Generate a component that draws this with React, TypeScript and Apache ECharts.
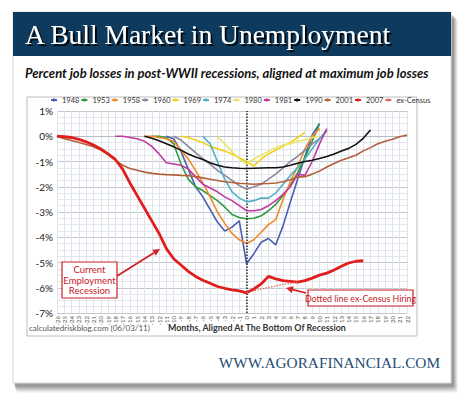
import React, { useEffect, useRef } from "react";
import * as echarts from "echarts";

const months = [-26, -25, -24, -23, -22, -21, -20, -19, -18, -17, -16, -15, -14, -13, -12, -11, -10, -9, -8, -7, -6, -5, -4, -3, -2, -1, 0, 1, 2, 3, 4, 5, 6, 7, 8, 9, 10, 11, 12, 13, 14, 15, 16, 17, 18, 19, 20, 21, 22];

const yMin = -7;
const yMax = 1;
const yStep = 1;

const start1948 = -11;
const v1948 = [0, -0.1, -0.6, -1.3, -2.0, -2.4, -2.9, -3.4, -3.75, -3.6, -3.35, -5.05, -4.65, -4.2, -4.05, -4.3, -3.55, -2.6, -1.7, -0.8, 0.05, 0.5];
const start1953 = -13;
const v1953 = [0, 0, -0.05, -0.3, -1.1, -1.7, -2.0, -2.15, -2.35, -2.55, -2.8, -3.1, -3.22, -3.27, -3.25, -3.15, -2.95, -2.7, -2.35, -1.95, -1.45, -0.85, -0.2, 0.5];
const start1958 = -14;
const v1958 = [0, 0, -0.05, -0.1, -0.2, -0.55, -0.9, -1.35, -1.85, -2.4, -3.0, -3.45, -3.85, -4.1, -4.25, -4.1, -3.8, -3.5, -3.3, -2.5, -1.8, -1.2, -0.5, 0.0, 0.3];
const start1960 = -10;
const v1960 = [0, -0.15, -0.4, -0.65, -0.9, -1.1, -1.35, -1.55, -1.75, -1.95, -2.1, -2.0, -1.9, -1.7, -1.5, -1.25, -1.0, -0.8, -0.55, -0.3, -0.1, 0.2];
const start1969 = -9;
const v1969 = [0, -0.05, -0.15, -0.25, -0.4, -0.5, -0.58, -0.7, -0.85, -1.0, -1.18, -0.9, -0.7, -0.55, -0.4, -0.25, -0.05, 0.15];
const start1974 = -6;
const v1974 = [0, -0.3, -1.0, -1.7, -2.2, -2.45, -2.6, -2.55, -2.45, -2.45, -2.25, -1.9, -1.55, -1.25, -0.9, -0.5, -0.1, 0.25];
const start1980 = -4;
const v1980 = [0, -0.3, -0.6, -0.9, -1.1, -0.9, -0.75, -0.6, -0.45, -0.35, -0.3, -0.2, -0.15, -0.05, 0.0];
const start1981 = -18;
const v1981 = [0, 0, -0.05, -0.1, -0.2, -0.4, -0.7, -1.05, -1.1, -1.15, -1.3, -1.6, -1.9, -2.05, -2.2, -2.4, -2.55, -2.75, -2.95, -2.95, -2.9, -2.75, -2.55, -2.3, -2.0, -1.5, -1.55, -1.0, -0.3, 0.3];
const start1990 = -14;
const v1990 = [0, -0.08, -0.18, -0.3, -0.42, -0.55, -0.7, -0.82, -0.92, -1.05, -1.15, -1.22, -1.25, -1.27, -1.28, -1.27, -1.26, -1.25, -1.25, -1.22, -1.15, -1.07, -1.0, -0.95, -0.88, -0.8, -0.7, -0.58, -0.48, -0.32, -0.08, 0.25];
const start2001 = -26;
const v2001 = [0, -0.1, -0.17, -0.25, -0.33, -0.42, -0.55, -0.72, -0.95, -1.15, -1.28, -1.35, -1.42, -1.47, -1.5, -1.52, -1.53, -1.55, -1.56, -1.6, -1.65, -1.7, -1.75, -1.8, -1.83, -1.86, -1.88, -1.9, -1.88, -1.87, -1.85, -1.8, -1.72, -1.62, -1.6, -1.5, -1.38, -1.22, -1.08, -0.95, -0.85, -0.75, -0.58, -0.45, -0.3, -0.2, -0.12, -0.02, 0.05];
const start2007 = -26;
const v2007 = [0, -0.02, -0.05, -0.12, -0.22, -0.35, -0.5, -0.7, -0.92, -1.3, -1.85, -2.35, -2.85, -3.35, -3.85, -4.45, -4.85, -5.1, -5.35, -5.55, -5.7, -5.82, -5.95, -6.02, -6.08, -6.12, -6.2, -6.05, -5.85, -5.55, -5.65, -5.72, -5.75, -5.78, -5.72, -5.62, -5.5, -5.42, -5.3, -5.15, -5.02, -4.95, -4.93];
const startCensus = 0;
const vCensus = [-6.2, -6.12, -6.05, -5.99, -5.93, -5.87, -5.82, -5.78];

const seriesDefs = [
  { name: "1948", start: start1948, values: v1948, color: "#4a5fb0", width: 1.6 },
  { name: "1953", start: start1953, values: v1953, color: "#2e9a3e", width: 1.6 },
  { name: "1958", start: start1958, values: v1958, color: "#f28a2a", width: 1.6 },
  { name: "1960", start: start1960, values: v1960, color: "#8d879c", width: 1.6 },
  { name: "1969", start: start1969, values: v1969, color: "#f0d01c", width: 1.6 },
  { name: "1974", start: start1974, values: v1974, color: "#4fb0c8", width: 1.6 },
  { name: "1980", start: start1980, values: v1980, color: "#ece46a", width: 1.6 },
  { name: "1981", start: start1981, values: v1981, color: "#c23aa0", width: 1.6 },
  { name: "1990", start: start1990, values: v1990, color: "#111111", width: 1.6 },
  { name: "2001", start: start2001, values: v2001, color: "#b3603a", width: 1.6 },
  { name: "2007", start: start2007, values: v2007, color: "#e01e1e", width: 2.8 },
  { name: "ex-Census", start: startCensus, values: vCensus, color: "#e06a6a", width: 1.4, dotted: true },
];

const FONT = "Lato";

function pad(start: number, values: number[]) {
  const out: (number | null)[] = months.map(() => null);
  values.forEach((v, i) => {
    const idx = months.indexOf(start + i);
    if (idx >= 0) out[idx] = v;
  });
  return out;
}

function arrow(x1: number, y1: number, x2: number, y2: number, color: string) {
  const dx = x2 - x1;
  const dy = y2 - y1;
  const len = Math.sqrt(dx * dx + dy * dy);
  const ux = dx / len;
  const uy = dy / len;
  const hl = 7;
  const hw = 3.5;
  const bx = x2 - ux * hl;
  const by = y2 - uy * hl;
  return [
    {
      type: "line",
      z: 100,
      shape: { x1, y1, x2: bx, y2: by },
      style: { stroke: color, lineWidth: 1.8 },
    },
    {
      type: "polygon",
      z: 100,
      shape: {
        points: [
          [x2, y2],
          [bx - uy * hw, by + ux * hw],
          [bx + uy * hw, by - ux * hw],
        ],
      },
      style: { fill: color },
    },
  ];
}

export default function App() {
  const ref = useRef<HTMLDivElement>(null);
  useEffect(() => {
    if (!ref.current) return;
    const chart = echarts.init(ref.current, null, { renderer: "svg" });
    const zeroIdx = months.indexOf(0);
    const red = "#c8202a";
    const series: any[] = seriesDefs.map((s, i) => ({
      name: s.name,
      type: "line",
      data: pad(s.start, s.values),
      symbol: "none",
      showSymbol: false,
      connectNulls: false,
      z: 2 + i,
      lineStyle: { color: s.color, width: s.width, type: s.dotted ? "dotted" : "solid" },
      itemStyle: { color: s.color },
      ...(s.name === "2007"
        ? {
            markLine: {
              silent: true,
              symbol: "none",
              label: { show: false },
              lineStyle: { color: "#222", type: "dotted", width: 1.5 },
              data: [{ xAxis: zeroIdx }],
            },
          }
        : {}),
    }));

    const shadowLayers = [
      { d: 7, o: 0.05 },
      { d: 6, o: 0.07 },
      { d: 5, o: 0.09 },
      { d: 4, o: 0.11 },
      { d: 3, o: 0.13 },
    ];

    const graphic: any[] = [
      ...shadowLayers.map((l, i) => ({
        type: "rect",
        z: -30 + i,
        shape: { x: 13 + l.d * 0.4, y: 12 + l.d, width: 438 + l.d * 0.6, height: 371 + l.d * 0.4, r: 3 },
        style: { fill: `rgba(0,0,0,${l.o})` },
      })),
      {
        type: "rect",
        z: -20,
        shape: { x: 13, y: 12, width: 438, height: 371 },
        style: { fill: "#ffffff", stroke: "#d6d6d6", lineWidth: 1 },
      },
      {
        type: "rect",
        z: -19,
        shape: { x: 13, y: 12, width: 438, height: 44 },
        style: { fill: "#0e3b5d" },
      },
      {
        type: "text",
        z: -17,
        x: 25,
        y: 34,
        style: {
          text: "A Bull Market in Unemployment",
          font: "27.5px 'Liberation Serif'",
          fill: "#ffffff",
          textVerticalAlign: "middle",
          textBaseline: "middle",
          shadowColor: "rgba(0,0,0,0.9)",
          shadowBlur: 1,
          shadowOffsetX: 2,
          shadowOffsetY: 2,
          textShadowColor: "rgba(0,0,0,0.9)",
          textShadowBlur: 1,
          textShadowOffsetX: 2,
          textShadowOffsetY: 2,
        },
      },
      {
        type: "text",
        z: -17,
        x: 25,
        y: 73,
        style: {
          text: "Percent job losses in post-WWII recessions, aligned at maximum job losses",
          font: "italic bold 13px " + FONT,
          fill: "#111111",
          textVerticalAlign: "middle",
          textBaseline: "middle",
        },
      },
      {
        type: "rect",
        z: -16,
        shape: { x: 27, y: 97, width: 390, height: 239 },
        style: { fill: "#ffffff", stroke: "#bdbdbd", lineWidth: 1 },
      },
      {
        type: "text",
        z: 10,
        x: 29,
        y: 328,
        style: {
          text: "calculatedriskblog.com (06/03/11)",
          font: "8px " + FONT,
          fill: "#555555",
          textVerticalAlign: "middle",
          textBaseline: "middle",
        },
      },
      {
        type: "text",
        z: 10,
        x: 168,
        y: 327,
        style: {
          text: "Months, Aligned At The Bottom Of Recession",
          font: "bold 8.9px " + FONT,
          fill: "#333333",
          textVerticalAlign: "middle",
          textBaseline: "middle",
        },
      },
      {
        type: "text",
        z: 10,
        x: 440,
        y: 362,
        style: {
          text: "WWW.AGORAFINANCIAL.COM",
          font: "15.3px 'Liberation Serif'",
          fill: "#1f4d74",
          textAlign: "right",
          textVerticalAlign: "middle",
          textBaseline: "middle",
        },
      },
      // annotation 1
      {
        type: "rect",
        z: 100,
        shape: { x: 62, y: 262, width: 55, height: 36 },
        style: { fill: "#ffffff", stroke: red, lineWidth: 1.2 },
      },
      {
        type: "text",
        z: 101,
        x: 89.5,
        y: 280,
        style: {
          text: "Current\nEmployment\nRecession",
          font: "9.5px " + FONT,
          fill: red,
          textAlign: "center",
          textVerticalAlign: "middle",
          textBaseline: "middle",
          lineHeight: 10.5,
        },
      },
      ...arrow(117, 276, 160, 249, "#d42020"),
      // annotation 2
      {
        type: "rect",
        z: 100,
        shape: { x: 308, y: 290, width: 105, height: 16 },
        style: { fill: "#ffffff", stroke: red, lineWidth: 1.2 },
      },
      {
        type: "text",
        z: 101,
        x: 360.5,
        y: 298,
        style: {
          text: "Dotted line ex-Census Hiring",
          font: "8.8px " + FONT,
          fill: red,
          textAlign: "center",
          textVerticalAlign: "middle",
          textBaseline: "middle",
        },
      },
      ...arrow(306, 293, 286, 288, "#d42020"),
    ];

    chart.setOption({
      animation: false,
      backgroundColor: "#ffffff",
      textStyle: { fontFamily: FONT },
      legend: {
        data: seriesDefs.map((s) => s.name),
        left: 50,
        top: 96,
        padding: 0,
        itemWidth: 6,
        itemHeight: 4,
        itemGap: 1,
        textStyle: { fontSize: 7.5, color: "#333", fontFamily: FONT },
      },
      grid: { left: 57, right: 63, top: 111, bottom: 86 },
      xAxis: {
        type: "category",
        data: months.map(String),
        boundaryGap: false,
        axisLine: { show: true, lineStyle: { color: "#b8bcc4" } },
        axisTick: { show: false },
        axisLabel: { interval: 0, rotate: 90, fontSize: 6, color: "#555", margin: 3, fontFamily: FONT },
        splitLine: { show: true, interval: 0, lineStyle: { color: "#dfe4ec", width: 1 } },
      },
      yAxis: {
        type: "value",
        min: yMin,
        max: yMax,
        interval: yStep,
        axisLine: { show: false },
        axisTick: { show: false },
        axisLabel: { formatter: "{value}%", fontSize: 10, color: "#222", margin: 4, fontFamily: FONT },
        splitLine: { show: true, lineStyle: { color: "#c3c8d0", width: 1 } },
        minorTick: { show: false, splitNumber: 4 },
        minorSplitLine: { show: true, lineStyle: { color: "#e3e7ee", width: 1 } },
      },
      series,
      graphic,
    });
    return () => chart.dispose();
  }, []);
  return (
    <div
      ref={ref}
      style={{ position: "fixed", left: 0, top: 0, width: 470, height: 399, background: "#fff" }}
    />
  );
}
